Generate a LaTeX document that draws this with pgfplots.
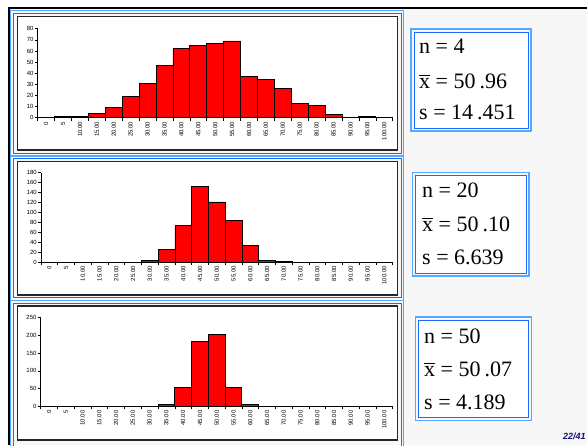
\documentclass[border=0pt]{standalone}
\usepackage{pgfplots}
\pgfplotsset{compat=1.18}
\usepackage{fontspec}
\setmainfont{Liberation Serif}
\newfontfamily\arial{Liberation Sans}
\definecolor{bgc}{HTML}{F7F7F7}
\definecolor{bla}{HTML}{55AAFF}
\definecolor{blb}{HTML}{1A6CFF}
\definecolor{navy}{HTML}{10107A}
\newcommand\xbar{{\setbox0\hbox{x}\rlap{\raisebox{\dimexpr\ht0+2.5pt}{\rule{\wd0}{0.7pt}}}x}}
\pgfplotsset{histo/.style={
  scale only axis, anchor=south west,
  xmin=-0.5, xmax=20.5, ymin=0,
  axis lines=left, axis line style={-, line width=0.6pt},
  tick align=outside,
  xtick={0,...,20},
  xticklabels={0,5,10.00,15.00,20.00,25.00,30.00,35.00,40.00,45.00,50.00,55.00,60.00,65.00,70.00,75.00,80.00,85.00,90.00,95.00,100.00},
  major x tick style={draw=none},
  minor xtick={-0.5,0.5,...,20.5},
  minor tick length=3pt, major tick length=3pt,
  tick style={black, line width=0.5pt},
  xticklabel style={rotate=90, anchor=east, font=\arial\fontsize{6}{7}\selectfont, inner sep=1pt},
  yticklabel style={font=\arial\fontsize{6}{7}\selectfont, inner sep=1pt},
  /pgf/number format/assume math mode=true,
  ybar, bar width=1, bar shift=0pt,
  clip=false,
}}
\begin{document}
\begin{tikzpicture}
\useasboundingbox (0pt,0pt) rectangle (587pt,445pt);
\fill[white] (0pt,0pt) rectangle (587pt,445pt);
\fill[bgc] (8pt,0pt) rectangle (587pt,437pt);
\draw[black, line width=2pt] (9pt,0pt) -- (9pt,437pt) -- (587pt,437pt);
% panels (y = 445 - py)
\foreach \ta/\tb/\tc/\td in {434.4/288.6/428.3/295, 289.5/144.5/283.3/150, 144.5/-5/139/5}{
  \draw[bla, line width=1.4pt] (10.7pt,\ta pt) rectangle (403.5pt,\tb pt);
  \draw[blb, line width=0.9pt] (13.2pt,\ta pt-2.6pt) rectangle (401pt,\tb pt+2.6pt);
  \filldraw[fill=white, draw=black!85, line width=1.2pt] (17.3pt,\tc pt) rectangle (397.7pt,\td pt);
}
% stat boxes
\foreach \xa/\ya/\xb/\yb in {411/416/531/314, 412.7/272.3/529/169, 415.7/128/531.7/24.3}{
  \draw[bla, line width=1.4pt] (\xa pt,\ya pt) rectangle (\xb pt,\yb pt);
  \filldraw[fill=white, draw=blb, line width=0.9pt] (\xa pt+3pt,\ya pt-3pt) rectangle (\xb pt-3pt,\yb pt+3pt);
}
\begin{scope}[every node/.style={anchor=base west, inner sep=0pt, font=\fontsize{22}{22}\selectfont}]
\node at (419pt,391pt) {n = 4};
\node at (419pt,356.7pt) {\xbar{} = 50\kern4pt.96};
\node at (419pt,325pt) {s = 14\kern4pt.451};
\node at (422pt,247.7pt) {n = 20};
\node at (422pt,213.3pt) {\xbar{} = 50\kern4pt.10};
\node at (422pt,180pt) {s = 6.639};
\node at (424pt,101.7pt) {n = 50};
\node at (424pt,68.3pt) {\xbar{} = 50\kern4pt.07};
\node at (424pt,35.7pt) {s = 4.189};
\end{scope}
\node[anchor=base west, inner sep=0pt, text=navy, font=\arial\bfseries\itshape\fontsize{9}{9}\selectfont] at (563pt,5.5pt) {22/41};
% histogram 1
\begin{axis}[histo, at={(37.7pt,327.3pt)}, width=355pt, height=89pt, ymax=80, ytick={0,10,...,80}]
\addplot[fill=red, draw=black, line width=0.8pt] coordinates {(1,1)(2,1)(3,4)(4,9)(5,19)(6,31)(7,47)(8,62)(9,65)(10,67)(11,69)(12,37)(13,34)(14,26)(15,13)(16,11)(17,3)(19,1)};
\end{axis}
% histogram 2
\begin{axis}[histo, at={(41pt,183pt)}, width=351.7pt, height=89.3pt, ymax=180, ytick={0,20,...,180}]
\addplot[fill=red, draw=black, line width=0.8pt] coordinates {(6,3)(7,26)(8,73)(9,153)(10,121)(11,84)(12,34)(13,4)(14,2)};
\end{axis}
% histogram 3
\begin{axis}[histo, at={(40.7pt,38.7pt)}, width=352pt, height=88.6pt, ymax=250, ytick={0,50,...,250}]
\addplot[fill=red, draw=black, line width=0.8pt] coordinates {(7,5)(8,53)(9,182)(10,203)(11,53)(12,4)};
\end{axis}
\end{tikzpicture}
\end{document}
